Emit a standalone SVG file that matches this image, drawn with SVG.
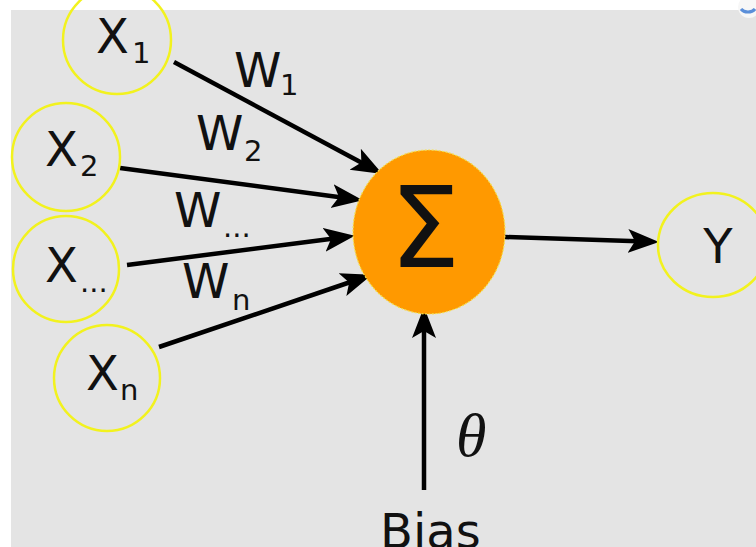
<svg xmlns="http://www.w3.org/2000/svg" width="756" height="547" viewBox="0 0 756 547">
<style>
.bg{fill:#e4e4e4}
.in{fill:none;stroke:#f2f21e;stroke-width:2.5}
.sum{fill:#ff9900;stroke:#f5e04a;stroke-width:1.2;stroke-dasharray:2 1.5}
.t{font-family:"DejaVu Sans",sans-serif;fill:#111}
.big{font-size:48px}
.sub{font-size:29px}
.edge{stroke:#000;stroke-width:4.5;fill:none;marker-end:url(#ah)}
</style>
<defs>
<marker id="ah" markerUnits="userSpaceOnUse" markerWidth="34" markerHeight="26" refX="10" refY="13" orient="auto" viewBox="0 0 34 26">
<path d="M0,1 L31,13 L0,25 L7,13 Z" fill="#000"/>
</marker>
</defs>
<rect width="756" height="547" fill="#ffffff"/>
<rect class="bg" x="11" y="10" width="745" height="537"/>
<g id="icon">
<circle cx="749" cy="7" r="11" fill="#f7f7f7"/>
<path d="M741,9 A8,6 0 0 0 755,9" fill="none" stroke="#5b8fd9" stroke-width="3"/>
</g>
<g id="connectors">
<line class="edge" x1="174" y1="62" x2="364" y2="164"/>
<line class="edge" x1="120" y1="168" x2="342" y2="197.5"/>
<line class="edge" x1="127" y1="265" x2="334" y2="238.5"/>
<line class="edge" x1="159" y1="347" x2="352" y2="281.5"/>
<line class="edge" x1="505" y1="237" x2="638" y2="241.3"/>
<line class="edge" x1="424" y1="490" x2="424" y2="328"/>
</g>
<g id="x1">
<circle class="in" cx="117" cy="40" r="54"/>
<text class="t big" x="96" y="53">X</text><text class="t sub" x="132" y="63">1</text>
</g>
<g id="x2">
<circle class="in" cx="66" cy="157" r="54"/>
<text class="t big" x="45" y="166">X</text><text class="t sub" x="80" y="176">2</text>
</g>
<g id="xdots">
<circle class="in" cx="66" cy="269" r="53"/>
<text class="t big" x="45" y="282">X</text><text class="t sub" x="80" y="292">...</text>
</g>
<g id="xn">
<circle class="in" cx="107" cy="378" r="53"/>
<text class="t big" x="86" y="390">X</text><text class="t sub" x="120" y="400">n</text>
</g>
<g id="weights">
<text class="t big" x="234" y="87">W</text><text class="t sub" x="280" y="95">1</text>
<text class="t big" x="196" y="150">W</text><text class="t sub" x="244" y="161">2</text>
<text class="t big" x="174" y="227">W</text><text class="t sub" x="223" y="237">...</text>
<text class="t big" x="182" y="298">W</text><text class="t sub" x="232" y="310">n</text>
</g>
<g id="sum">
<ellipse class="sum" cx="429" cy="232" rx="76" ry="82"/>
<text class="t" x="425" y="267" font-size="112" text-anchor="middle">Σ</text>
</g>
<g id="y">
<ellipse class="in" cx="713" cy="245" rx="55" ry="52"/>
<text class="t big" x="718" y="263" text-anchor="middle">Y</text>
</g>
<g id="bias">
<text class="t big" x="380" y="548">Bias</text>
<text x="456" y="456" font-family="'Liberation Serif',serif" font-style="italic" font-size="62" fill="#111">θ</text>
</g>
</svg>
